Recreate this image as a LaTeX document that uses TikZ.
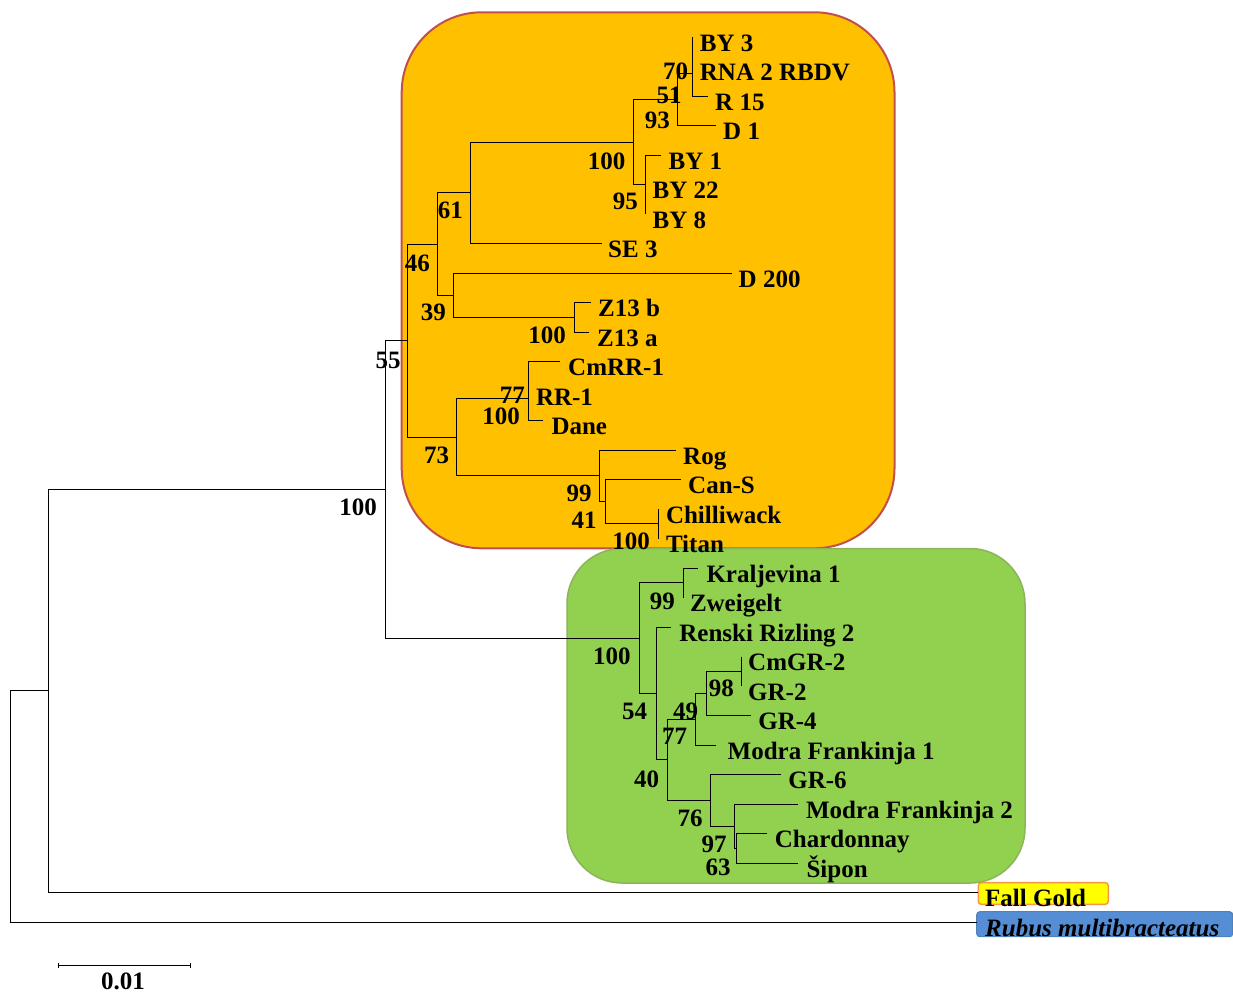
\documentclass[tikz,border=0pt]{standalone}
\usepackage{fontspec}
\setmainfont{Liberation Serif}
\definecolor{cladeorange}{HTML}{FFC000}
\definecolor{cladeorangeb}{HTML}{C0504D}
\definecolor{cladegreen}{HTML}{92D050}
\definecolor{cladegreenb}{HTML}{8CB55A}
\definecolor{fgfill}{HTML}{FFFF00}
\definecolor{fgborder}{HTML}{F79646}
\definecolor{rbfill}{HTML}{558ED5}
\definecolor{rbborder}{HTML}{4F81BD}
\newcommand{\treefont}{\bfseries\fontsize{25}{28}\selectfont}
\tikzset{
  branch/.style={black, line width=0.9pt},
  leaf/.style={font=\treefont, anchor=base west, inner sep=0pt},
  boot/.style={font=\treefont, anchor=north east, inner sep=0pt},
  clade/.style={line width=2pt},
}
\begin{document}
\begin{tikzpicture}[x=1pt,y=-1pt]
\useasboundingbox (0,0) rectangle (1233,993);
% clade backgrounds
\filldraw[clade, fill=cladeorange, draw=cladeorangeb, rounded corners=80pt] (401.7,12.3) rectangle (894.5,548.3);
\filldraw[line width=1.5pt, fill=cladegreen, draw=cladegreenb, rounded corners=55pt] (567,548.5) rectangle (1025,883);
\filldraw[line width=1.5pt, fill=fgfill, draw=fgborder, rounded corners=3pt] (978.3,882.7) rectangle (1108.3,904.3);
\filldraw[line width=1pt, fill=rbfill, draw=rbborder, rounded corners=3pt] (976.7,911.7) rectangle (1232.7,936.7);
% tips
\coordinate (l0) at (692.7,37);
\coordinate (l1) at (692.7,66.5);
\coordinate (l2) at (708,96);
\coordinate (l3) at (716,125.5);
\coordinate (l4) at (661,155);
\coordinate (l5) at (645,184.5);
\coordinate (l6) at (645,214);
\coordinate (l7) at (602,243.5);
\coordinate (l8) at (732,273);
\coordinate (l9) at (591,302.5);
\coordinate (l10) at (589,332);
\coordinate (l11) at (560,361.5);
\coordinate (l12) at (528.3,391);
\coordinate (l13) at (543.3,420.5);
\coordinate (l14) at (676,450);
\coordinate (l15) at (681,479.5);
\coordinate (l16) at (658.3,509);
\coordinate (l17) at (658.3,538.5);
\coordinate (l18) at (698.3,568);
\coordinate (l19) at (683.3,597.5);
\coordinate (l20) at (670.7,627);
\coordinate (l21) at (741,656.5);
\coordinate (l22) at (741,686);
\coordinate (l23) at (750.7,715.5);
\coordinate (l24) at (716,745);
\coordinate (l25) at (780.7,774.5);
\coordinate (l26) at (798.3,804);
\coordinate (l27) at (766.7,833.5);
\coordinate (l28) at (798.3,863);
\coordinate (l29) at (978,892.5);
\coordinate (l30) at (977,922);
% internal nodes
\coordinate (A70) at (692.7,51.75);
\coordinate (B51) at (692.7,73.9);
\coordinate (C93) at (677,99.7);
\coordinate (E95) at (645,184.5);
\coordinate (N100a) at (633.5,142.1);
\coordinate (N61) at (470.7,192.8);
\coordinate (Z100) at (574.7,317.25);
\coordinate (N39) at (453.3,295.1);
\coordinate (N46) at (437.3,243.95);
\coordinate (R77) at (528.3,376.25);
\coordinate (R100) at (528.3,398.4);
\coordinate (T100) at (658.3,523.75);
\coordinate (N41) at (605.7,501.6);
\coordinate (N99) at (599,475.8);
\coordinate (N73) at (456.7,437.1);
\coordinate (N55) at (407.3,340.5);
\coordinate (K99) at (683.3,582.75);
\coordinate (G98) at (741,671.25);
\coordinate (G49) at (706,693.4);
\coordinate (G77) at (695,719.2);
\coordinate (S63) at (736,848.25);
\coordinate (S97) at (734.3,826.1);
\coordinate (G76) at (710.7,800.3);
\coordinate (G40) at (667.3,759.75);
\coordinate (G54) at (656,693.4);
\coordinate (G100) at (639.3,638.1);
\coordinate (Top100) at (385.3,489.3);
\coordinate (Ingroup) at (48,690.9);
\coordinate (Root) at (10,806.5);
% branches
\draw[branch] (A70) |- (l0);
\draw[branch] (A70) |- (l1);
\draw[branch] (B51) |- (A70);
\draw[branch] (B51) |- (l2);
\draw[branch] (C93) |- (B51);
\draw[branch] (C93) |- (l3);
\draw[branch] (E95) |- (l4);
\draw[branch] (E95) |- (l5);
\draw[branch] (E95) |- (l6);
\draw[branch] (N100a) |- (C93);
\draw[branch] (N100a) |- (E95);
\draw[branch] (N61) |- (N100a);
\draw[branch] (N61) |- (l7);
\draw[branch] (Z100) |- (l9);
\draw[branch] (Z100) |- (l10);
\draw[branch] (N39) |- (l8);
\draw[branch] (N39) |- (Z100);
\draw[branch] (N46) |- (N61);
\draw[branch] (N46) |- (N39);
\draw[branch] (R77) |- (l11);
\draw[branch] (R77) |- (l12);
\draw[branch] (R100) |- (R77);
\draw[branch] (R100) |- (l13);
\draw[branch] (T100) |- (l16);
\draw[branch] (T100) |- (l17);
\draw[branch] (N41) |- (l15);
\draw[branch] (N41) |- (T100);
\draw[branch] (N99) |- (l14);
\draw[branch] (N99) |- (N41);
\draw[branch] (N73) |- (R100);
\draw[branch] (N73) |- (N99);
\draw[branch] (N55) |- (N46);
\draw[branch] (N55) |- (N73);
\draw[branch] (K99) |- (l18);
\draw[branch] (K99) |- (l19);
\draw[branch] (G98) |- (l21);
\draw[branch] (G98) |- (l22);
\draw[branch] (G49) |- (G98);
\draw[branch] (G49) |- (l23);
\draw[branch] (G77) |- (G49);
\draw[branch] (G77) |- (l24);
\draw[branch] (S63) |- (l27);
\draw[branch] (S63) |- (l28);
\draw[branch] (S97) |- (l26);
\draw[branch] (S97) |- (S63);
\draw[branch] (G76) |- (l25);
\draw[branch] (G76) |- (S97);
\draw[branch] (G40) |- (G77);
\draw[branch] (G40) |- (G76);
\draw[branch] (G54) |- (l20);
\draw[branch] (G54) |- (G40);
\draw[branch] (G100) |- (K99);
\draw[branch] (G100) |- (G54);
\draw[branch] (Top100) |- (N55);
\draw[branch] (Top100) |- (G100);
\draw[branch] (Ingroup) |- (Top100);
\draw[branch] (Ingroup) |- (l29);
\draw[branch] (Root) |- (Ingroup);
\draw[branch] (Root) |- (l30);
% leaf labels
\node[leaf] (t0) at ([shift={(7,14)}]l0) {BY 3};
\node[leaf] (t1) at ([shift={(7,14)}]l1) {RNA 2 RBDV};
\node[leaf] (t2) at ([shift={(7,14)}]l2) {R 15};
\node[leaf] (t3) at ([shift={(7,14)}]l3) {D 1};
\node[leaf] (t4) at ([shift={(7.5,14)}]l4) {BY 1};
\node[leaf] (t5) at ([shift={(7.5,14)}]l5) {BY 22};
\node[leaf] (t6) at ([shift={(7.5,14)}]l6) {BY 8};
\node[leaf] (t7) at ([shift={(6,14)}]l7) {SE 3};
\node[leaf] (t8) at ([shift={(6.5,14)}]l8) {D 200};
\node[leaf] (t9) at ([shift={(7,14)}]l9) {Z13 b};
\node[leaf] (t10) at ([shift={(8,14)}]l10) {Z13 a};
\node[leaf] (t11) at ([shift={(8,14)}]l11) {CmRR-1};
\node[leaf] (t12) at ([shift={(7.5,14)}]l12) {RR-1};
\node[leaf] (t13) at ([shift={(8,14)}]l13) {Dane};
\node[leaf] (t14) at ([shift={(7,14)}]l14) {Rog};
\node[leaf] (t15) at ([shift={(7,14)}]l15) {Can-S};
\node[leaf] (t16) at ([shift={(7.5,14)}]l16) {Chilliwack};
\node[leaf] (t17) at ([shift={(7.5,14)}]l17) {Titan};
\node[leaf] (t18) at ([shift={(8,14)}]l18) {Kraljevina 1};
\node[leaf] (t19) at ([shift={(6.5,14)}]l19) {Zweigelt};
\node[leaf] (t20) at ([shift={(8.5,14)}]l20) {Renski Rizling 2};
\node[leaf] (t21) at ([shift={(7,14)}]l21) {CmGR-2};
\node[leaf] (t22) at ([shift={(7,14)}]l22) {GR-2};
\node[leaf] (t23) at ([shift={(7.5,14)}]l23) {GR-4};
\node[leaf] (t24) at ([shift={(11.5,14)}]l24) {Modra Frankinja 1};
\node[leaf] (t25) at ([shift={(7.5,14)}]l25) {GR-6};
\node[leaf] (t26) at ([shift={(7.5,14)}]l26) {Modra Frankinja 2};
\node[leaf] (t27) at ([shift={(8,14)}]l27) {Chardonnay};
\node[leaf] (t28) at ([shift={(8,14)}]l28) {Šipon};
\node[leaf] (t29) at ([shift={(7,14)}]l29) {Fall Gold};
\node[leaf] (t30) at ([shift={(8,14)}]l30) {\itshape Rubus multibracteatus};
% bootstrap values
\node[boot] (b70) at (688.3,62.7) {70};
\node[boot] (b51) at (681.7,87) {51};
\node[boot] (b93) at (670,111.7) {93};
\node[boot] (b100a) at (625.5,152.7) {100};
\node[boot] (b95) at (638,193) {95};
\node[boot] (b61) at (463,202) {61};
\node[boot] (b46) at (430,255) {46};
\node[boot] (b39) at (446,304) {39};
\node[boot] (b100z) at (566,326.7) {100};
\node[boot] (b55) at (400.7,351.7) {55};
\node[boot] (b77r) at (525,386.7) {77};
\node[boot] (b100r) at (520,408) {100};
\node[boot] (b73) at (449.3,446.7) {73};
\node[boot] (b99r) at (591.7,485) {99};
\node[boot] (b41) at (596.7,511.7) {41};
\node[boot] (b100t) at (650,533) {100};
\node[boot] (b100top) at (377,499) {100};
\node[boot] (b100g) at (630.7,648) {100};
\node[boot] (b99k) at (675,593) {99};
\node[boot] (b54) at (647.3,703) {54};
\node[boot] (b40) at (659.3,770.7) {40};
\node[boot] (b77g) at (687.3,728) {77};
\node[boot] (b49) at (698.3,702.7) {49};
\node[boot] (b98) at (734,680) {98};
\node[boot] (b76) at (702.7,810) {76};
\node[boot] (b97) at (726.7,836) {97};
\node[boot] (b63) at (730.7,858.3) {63};
% scale bar
\coordinate (s1) at (58.3,965.7);
\coordinate (s2) at (190.7,965.7);
\draw[branch] (s1) -- (s2);
\draw[branch] ([shift={(0,-2.5)}]s1) -- ([shift={(0,2.5)}]s1);
\draw[branch] ([shift={(0,-2.5)}]s2) -- ([shift={(0,2.5)}]s2);
\node[font=\treefont, anchor=base, inner sep=0pt] (scale) at (123,989) {0.01};
\end{tikzpicture}
\end{document}
